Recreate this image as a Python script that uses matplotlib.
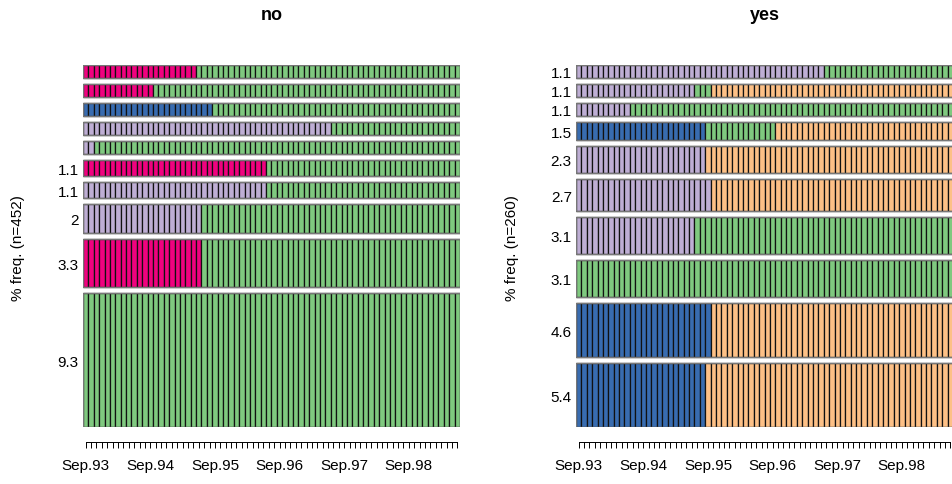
import numpy as np
import matplotlib.pyplot as plt

plt.rcParams['font.family'] = ['Liberation Sans', 'DejaVu Sans']

# state palette (RColorBrewer "Accent")
state_colors = {'EM': '#7FC97F', 'FE': '#BEAED4', 'HE': '#FDC086',
                'JL': '#FFFF99', 'SC': '#386CB0', 'TR': '#F0027F'}

# monthly time axis, Sep.93 .. Jun.99
n_months = 70
month_abbr = ['Jan', 'Feb', 'Mar', 'Apr', 'May', 'Jun',
              'Jul', 'Aug', 'Sep', 'Oct', 'Nov', 'Dec']
months = []
for k in range(n_months):
    months.append('%s.%02d' % (month_abbr[(8 + k) % 12], 93 + (8 + k) // 12))
label_step = 12

# most frequent sequences, as (state, months) runs, most frequent first
no_seqs = [
    [('EM', 70)],
    [('TR', 22), ('EM', 48)],
    [('FE', 22), ('EM', 48)],
    [('FE', 34), ('EM', 36)],
    [('TR', 34), ('EM', 36)],
    [('FE', 2), ('EM', 68)],
    [('FE', 46), ('EM', 24)],
    [('SC', 24), ('EM', 46)],
    [('TR', 13), ('EM', 57)],
    [('TR', 21), ('EM', 49)],
]
no_freq = [9.3, 3.3, 2.0, 1.1, 1.1, 0.9, 0.9, 0.9, 0.9, 0.9]
no_n = 452

yes_seqs = [
    [('SC', 24), ('HE', 46)],
    [('SC', 25), ('HE', 45)],
    [('EM', 70)],
    [('FE', 22), ('EM', 48)],
    [('FE', 25), ('HE', 45)],
    [('FE', 24), ('HE', 46)],
    [('SC', 24), ('EM', 13), ('HE', 33)],
    [('FE', 10), ('EM', 60)],
    [('FE', 22), ('EM', 3), ('HE', 45)],
    [('FE', 46), ('EM', 24)],
]
yes_freq = [5.4, 4.6, 3.1, 3.1, 2.7, 2.3, 1.5, 1.1, 1.1, 1.1]
yes_n = 260


def seqfplot(ax, seqs, freq):
    gap = 0.2 * np.mean(freq)
    bottom = 0.0
    centers = []
    x = np.arange(n_months) - 0.5
    for seq, f in zip(seqs, freq):
        cols = []
        for st, ln in seq:
            cols += [state_colors[st]] * ln
        ax.barh(np.full(n_months, bottom), np.ones(n_months), height=f,
                left=x, align='edge', color=cols, edgecolor='#111111',
                linewidth=0.9)
        # soft grey outline round each sequence bar
        ax.barh(bottom, n_months, height=f, left=-0.5, align='edge',
                fill=False, edgecolor='#777777', linewidth=1.0)
        centers.append(bottom + f / 2)
        bottom += f + gap
    ax.set_ylim(0, bottom - gap)
    ax.set_xlim(-0.5, n_months - 0.5)

    labs = [('%g' % f) if f >= 1 else '' for f in freq]
    ax.set_yticks(centers, labels=labs)
    ax.tick_params(axis='y', length=0, pad=3, labelsize=11)

    ax.set_xticks(np.arange(n_months),
                  labels=[m if i % label_step == 0 else ''
                          for i, m in enumerate(months)])
    ax.tick_params(axis='x', direction='out', length=4.5, width=0.7,
                   pad=7, labelsize=11)
    for s in ['top', 'right', 'left']:
        ax.spines[s].set_visible(False)
    ax.spines['bottom'].set_position(('outward', 11))
    ax.spines['bottom'].set_bounds(0, n_months - 1)
    ax.spines['bottom'].set_linewidth(0.7)


W, H = 952, 485
fig = plt.figure(figsize=(W / 100, H / 100), dpi=100)

ax1 = fig.add_axes([83 / W, 57 / H, 377 / W, 362 / H])
seqfplot(ax1, no_seqs, no_freq)
ax2 = fig.add_axes([576 / W, 57 / H, 377 / W, 362 / H])
seqfplot(ax2, yes_seqs, yes_freq)

fig.text(271.5 / W, 1 - 15 / H, 'no', ha='center', va='center',
         fontsize=13, fontweight='bold')
fig.text(764.5 / W, 1 - 15 / H, 'yes', ha='center', va='center',
         fontsize=13, fontweight='bold')
fig.text(18 / W, 1 - 248 / H, '%% freq. (n=%d)' % no_n, rotation=90,
         ha='center', va='center', fontsize=11)
fig.text(512 / W, 1 - 248 / H, '%% freq. (n=%d)' % yes_n, rotation=90,
         ha='center', va='center', fontsize=11)

fig.savefig('out.png', dpi=100)
